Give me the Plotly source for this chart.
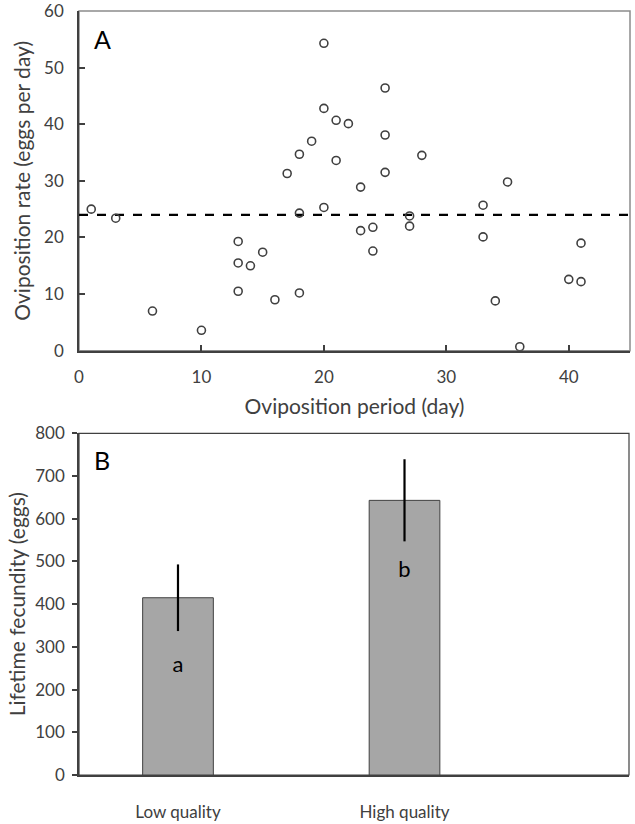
import plotly.graph_objects as go

# ---- Panel A data ----
period_days = [1, 3, 6, 10, 13, 13, 13, 14, 15, 16, 17, 18, 18, 18, 19, 20, 20, 20,
               21, 21, 22, 23, 23, 24, 24, 25, 25, 25, 27, 27, 28, 33, 33, 34, 35,
               36, 40, 41, 41]
rate_eggs = [25.0, 23.4, 7.0, 3.6, 19.3, 15.5, 10.5, 15.0, 17.4, 9.0, 31.3, 34.7, 24.3,
             10.2, 37.0, 54.3, 42.8, 25.3, 40.7, 33.6, 40.1, 28.9, 21.2, 21.8, 17.6,
             46.4, 38.1, 31.5, 23.8, 22.0, 34.5, 25.7, 20.1, 8.8, 29.8, 0.7, 12.6,
             12.2, 19.0]
mean_rate = 24.0
mean_line_x = [0, 45]

# ---- Panel B data ----
quality = ["Low quality", "High quality"]
fecundity = [415, 643]
fecundity_err = [78, 96]
sig_letters = ["a", "b"]
letter_y = [253, 476]

txt = "#404040"
font_family = "Lato, 'Noto Sans', sans-serif"

fig = go.Figure()

fig.add_trace(go.Scatter(
    x=mean_line_x, y=[mean_rate, mean_rate], mode="lines",
    line=dict(color="black", width=2.2, dash="dash"),
    xaxis="x", yaxis="y", showlegend=False, hoverinfo="skip"))

fig.add_trace(go.Scatter(
    x=period_days, y=rate_eggs, mode="markers",
    marker=dict(symbol="circle-open", size=8, color="#404040", line=dict(width=1.6)),
    xaxis="x", yaxis="y", showlegend=False))

fig.add_trace(go.Bar(
    x=[0, 1], y=fecundity, width=0.312,
    marker=dict(color="#a6a6a6", line=dict(color="#404040", width=1)),
    error_y=dict(type="data", array=fecundity_err, color="black", thickness=2.2, width=0),
    xaxis="x2", yaxis="y2", showlegend=False))

fig.add_trace(go.Scatter(
    x=[0, 1], y=letter_y, mode="text", text=sig_letters,
    textfont=dict(size=22, color="black", family=font_family),
    xaxis="x2", yaxis="y2", showlegend=False, hoverinfo="skip"))

x0, x1 = 79 / 635, 630 / 635
yA0, yA1 = 1 - 350.7 / 824, 1 - 11 / 824
yB0, yB1 = 1 - 775 / 824, 1 - 433.3 / 824

axis_common = dict(showgrid=False, zeroline=False, showline=True, automargin=False,
                   ticklabeloverflow="allow",
                   linecolor="#404040", linewidth=1.5,
                   tickfont=dict(size=17, color=txt, family=font_family),
                   tickcolor="#404040", tickwidth=1.5)
title_font = dict(size=21, color=txt, family=font_family)

fig.update_layout(
    width=635, height=824,
    margin=dict(l=0, r=0, t=0, b=0, autoexpand=False),
    paper_bgcolor="white", plot_bgcolor="white",
    font=dict(family=font_family, color=txt),
    xaxis=dict(domain=[x0, x1], anchor="y", range=[0, 45], tickvals=[0, 10, 20, 30, 40],
               ticks="inside", ticklen=6, ticklabelstandoff=10,
               title=dict(text="Oviposition period (day)", font=title_font, standoff=13),
               **axis_common),
    yaxis=dict(domain=[yA0, yA1], anchor="x", range=[0, 60], tickvals=[0, 10, 20, 30, 40, 50, 60],
               ticks="inside", ticklen=6, ticklabelstandoff=10,
               title=dict(text="Oviposition rate (eggs per day)", font=title_font, standoff=8),
               **axis_common),
    xaxis2=dict(domain=[x0, 629 / 635], anchor="y2", range=[-0.437, 1.991],
                tickvals=[0, 1], ticktext=quality, ticks="", ticklabelstandoff=21,
                **axis_common),
    yaxis2=dict(domain=[yB0, yB1], anchor="x2", range=[0, 800],
                tickvals=[0, 100, 200, 300, 400, 500, 600, 700, 800],
                ticks="outside", ticklen=5, ticklabelstandoff=4,
                title=dict(text="Lifetime fecundity (eggs)", font=title_font, standoff=4),
                **axis_common),
    shapes=[
        dict(type="rect", xref="paper", yref="paper", x0=x0, x1=x1, y0=yA0, y1=yA1,
             line=dict(color="#8c8c8c", width=1.5), layer="below"),
        dict(type="rect", xref="paper", yref="paper", x0=x0, x1=629 / 635, y0=yB0, y1=yB1,
             line=dict(color="#404040", width=1.2), layer="below"),
    ],
    annotations=[
        dict(text="A", xref="paper", yref="paper", x=92 / 635, y=1 - 39 / 824,
             showarrow=False, xanchor="left", yanchor="middle",
             font=dict(size=25, color="black", family=font_family)),
        dict(text="B", xref="paper", yref="paper", x=92 / 635, y=1 - 460 / 824,
             showarrow=False, xanchor="left", yanchor="middle",
             font=dict(size=25, color="black", family=font_family)),
    ],
)

fig.write_html("out.html", config={"displayModeBar": False},
               post_script="document.body.style.margin='0px';document.body.style.overflow='hidden';")
